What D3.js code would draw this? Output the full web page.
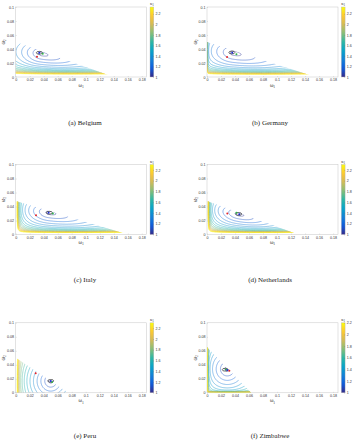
<!DOCTYPE html>
<html><head><meta charset="utf-8">
<script src="https://cdn.jsdelivr.net/npm/d3@7"></script>
<style>body{margin:0;background:#fff}svg{display:block}</style>
</head><body>
<svg id="c" width="356" height="440"></svg>
<script>
// ---------------- data ----------------
const captions = ["(a) Belgium","(b) Germany","(c) Italy","(d) Netherlands","(e) Peru","(f) Zimbabwe"];
// feasible region: w1/xIntercept + w2/yIntercept <= 1
const xIntercept = [0.140, 0.155, 0.160, 0.130, 0.075, 0.063];
const yIntercept = [0.050, 0.050, 0.048, 0.048, 0.050, 0.065];
// location of the optimum (minimum of kappa)
const optW1 = [0.037, 0.038, 0.048, 0.045, 0.050, 0.029];
const optW2 = [0.033, 0.034, 0.031, 0.029, 0.0167, 0.034];
// shape of the kappa surface
const valleyAngle  = [-12, -12, -10, -14, 0, 0];     // degrees
const surfaceSlope = [4.2, 3.6, 4.0, 5.0, 14, 12];
const leftStretch  = [2.3, 2.2, 2.0, 1.6, 1, 1];
const perpStretch  = [3.5, 3.5, 4.0, 3.5, 1, 1];
const leftBarrier  = [0, 0.0002, 0.002, 0.0015, 0.0015, 0.0004];
const bottomBarrier= [0.0053, 0.005, 0.003, 0.003, 0, 0.0004];
const colorbarMax  = [2.33, 2.33, 2.3, 2.3, 2.3, 2.2];
// contour levels
const levels = [1.04,1.12,1.2,1.28,1.36,1.44,1.52,1.6,1.68,1.76,1.84,1.92,2.0,2.08,2.16,2.24,2.32];
// markers [w1, w2]
const blackMarker = [[0.0337,0.0346],[0.0355,0.0350],[0.048,0.0311],[0.0453,0.0293],[0.050,0.0170],[0.026,0.0330]];
const blueMarker  = [[0.0337,0.0346],[0.0360,0.0347],[0.047,0.0310],[0.0460,0.0290],[0.050,0.0167],[0.029,0.0324]];
const greenMarker = [[0.0386,0.0333],[0.0420,0.0324],[0.053,0.0300],[0.0420,0.0310],[0.052,0.0155],[0.027,0.0333]];
const redMarker   = [[0.0304,0.0290],[0.0286,0.0286],[0.029,0.0276],[0.0290,0.0300],[0.0285,0.0280],[0.0319,0.0314]];
// ticks
const xTicks = [0,0.02,0.04,0.06,0.08,0.1,0.12,0.14,0.16,0.18];
const yTicks = [0,0.02,0.04,0.06,0.08,0.1];
const cbTicks = [1,1.2,1.4,1.6,1.8,2,2.2];
const parulaStops = ["#352a87","#0f5cdd","#1481d6","#06a4ca","#2eb7a4","#87bf77","#d1bb59","#fec832","#f9fb0e"];

// ---------------- layout ----------------
const colLeft = [15.7, 207];
const rowTop = [7, 164.5, 322.8];
const captionY = [124.5, 281.5, 437.8];
const captionX = [85, 270];
const plotW = 131, plotH = 70;
const xDomain = [0, 0.187], yDomain = [0, 0.1];
const parula = d3.piecewise(d3.interpolateRgb, parulaStops);
const fmt = d => d === 0 ? "0" : String(+d.toFixed(2));

const svg = d3.select("#c");
const defs = svg.append("defs");
const grad = defs.append("linearGradient").attr("id","parula").attr("x1",0).attr("y1",1).attr("x2",0).attr("y2",0);
d3.range(0, 1.0001, 0.05).forEach(t => grad.append("stop").attr("offset", t).attr("stop-color", parula(t)));

captions.forEach((cap, i) => {
  const col = i % 2, row = Math.floor(i / 2);
  const L = colLeft[col], T = rowTop[row];
  const xs = d3.scaleLinear(xDomain, [L, L + plotW]);
  const ys = d3.scaleLinear(yDomain, [T + plotH, T]);
  const g = svg.append("g");

  // field
  const X = xIntercept[i], Y = yIntercept[i];
  const ox = optW1[i], oy = optW2[i];
  const th = valleyAngle[i] * Math.PI / 180, ct = Math.cos(th), st = Math.sin(th);
  const c = surfaceSlope[i], kL = leftStretch[i], asp = perpStretch[i];
  const p = leftBarrier[i], q = bottomBarrier[i];
  const f = (x, y) => {
    const dx = x - ox, dy = y - oy;
    let s = dx * ct + dy * st;
    const t = -dx * st + dy * ct;
    if (s < 0) s *= kL;
    const r = Math.sqrt(s * s + (t * asp) * (t * asp));
    const xc = Math.max(x, 0.0003), yc = Math.max(y, 0.0003);
    const bx = p * (xc - ox) * (xc - ox) / (xc * ox * ox);
    const by = q * (yc - oy) * (yc - oy) / (yc * oy * oy);
    return 1 + c * r + bx + by;
  };
  const step = 0.0004, gx0 = -0.002, gy0 = -0.002;
  const nx = Math.ceil((X + 0.008 - gx0) / step), ny = Math.ceil((Y + 0.008 - gy0) / step);
  const vals = new Float64Array(nx * ny);
  for (let j = 0; j < ny; j++) for (let k = 0; k < nx; k++) vals[j * nx + k] = f(gx0 + k * step, gy0 + j * step);
  const contours = d3.contours().size([nx, ny]).thresholds(levels)(vals);
  const proj = d3.geoTransform({ point(x, y) { this.stream.point(xs(gx0 + (x - 0.5) * step), ys(gy0 + (y - 0.5) * step)); } });
  const path = d3.geoPath(proj);
  const cs = d3.scaleLinear([1, colorbarMax[i]], [0, 1]).clamp(true);

  const clipId = "clip" + i;
  defs.append("clipPath").attr("id", clipId).append("path")
    .attr("d", `M${xs(0)},${ys(0)}L${xs(X)},${ys(0)}L${xs(0)},${ys(Y)}Z`);

  g.append("g").attr("clip-path", `url(#${clipId})`)
    .selectAll("path").data(contours).join("path")
    .attr("d", path).attr("fill", "none")
    .attr("stroke", d => parula(cs(d.value))).attr("stroke-width", 0.5).attr("stroke-opacity", 0.9);

  // axes box
  g.append("rect").attr("x", L).attr("y", T).attr("width", plotW).attr("height", plotH)
    .attr("fill", "none").attr("stroke", "#c6c6c6").attr("stroke-width", 0.5);
  const ax = g.append("g").attr("transform", `translate(0,${T + plotH})`)
    .call(d3.axisBottom(xs).tickValues(xTicks).tickFormat(fmt).tickSize(-1).tickPadding(1.6));
  const ay = g.append("g").attr("transform", `translate(${L},0)`)
    .call(d3.axisLeft(ys).tickValues(yTicks).tickFormat(fmt).tickSize(-1).tickPadding(1.6));
  [ax, ay].forEach(a => {
    a.select(".domain").remove();
    a.selectAll("line").attr("stroke", "#bbb").attr("stroke-width", 0.4);
    a.selectAll("text").attr("font-size", 3.6).attr("font-family", "Liberation Sans, Arial, sans-serif").attr("fill", "#333");
  });
  // axis labels
  const xl = g.append("text").attr("x", L + plotW / 2).attr("y", T + plotH + 9.5).attr("text-anchor", "middle")
    .attr("font-family", "Liberation Serif, serif").attr("font-size", 5.2).attr("fill", "#333");
  xl.append("tspan").text("ω");
  xl.append("tspan").attr("font-size", 3.6).attr("dy", 1.2).text("1");
  const yl = g.append("text").attr("transform", `translate(${L - 10.5},${T + plotH / 2}) rotate(-90)`).attr("text-anchor", "middle")
    .attr("font-family", "Liberation Serif, serif").attr("font-size", 5.2).attr("fill", "#333");
  yl.append("tspan").text("ω");
  yl.append("tspan").attr("font-size", 3.6).attr("dy", 1.2).text("2");

  // markers
  const mk = g.append("g");
  mk.append("ellipse").attr("cx", xs(blackMarker[i][0])).attr("cy", ys(blackMarker[i][1])).attr("rx", 3).attr("ry", 1.4)
    .attr("fill", "none").attr("stroke", "#111").attr("stroke-width", 0.6);
  [[greenMarker, "#33b54a"], [blueMarker, "#1b2bd6"], [redMarker, "#e3262b"]].forEach(([m, col]) => {
    mk.append("circle").attr("cx", xs(m[i][0])).attr("cy", ys(m[i][1])).attr("r", 1.0).attr("fill", col);
  });

  // colorbar
  const cbx = L + plotW + 3.3, cbw = 3.8;
  const cby = d3.scaleLinear([1, colorbarMax[i]], [T + plotH, T]);
  g.append("rect").attr("x", cbx).attr("y", T).attr("width", cbw).attr("height", plotH)
    .attr("fill", "url(#parula)").attr("stroke", "#bbb").attr("stroke-width", 0.4);
  const ac = g.append("g").attr("transform", `translate(${cbx + cbw},0)`)
    .call(d3.axisRight(cby).tickValues(cbTicks).tickFormat(d => String(d)).tickSize(-0.8).tickPadding(1.6));
  ac.select(".domain").remove();
  ac.selectAll("line").attr("stroke", "#666").attr("stroke-width", 0.3);
  ac.selectAll("text").attr("font-size", 3.6).attr("font-family", "Liberation Sans, Arial, sans-serif").attr("fill", "#333");
  const kl = g.append("text").attr("x", cbx + cbw / 2).attr("y", T - 1.8).attr("text-anchor", "middle")
    .attr("font-family", "Liberation Serif, serif").attr("font-size", 4.6).attr("fill", "#333");
  kl.append("tspan").text("κ");
  kl.append("tspan").attr("font-size", 3.2).attr("dy", 1).text("1");

  // caption
  g.append("text").attr("x", captionX[col]).attr("y", captionY[row]).attr("text-anchor", "middle")
    .attr("font-family", "Liberation Serif, Times New Roman, serif").attr("font-size", 7).attr("fill", "#222").text(cap);
});
</script>
</body></html>
